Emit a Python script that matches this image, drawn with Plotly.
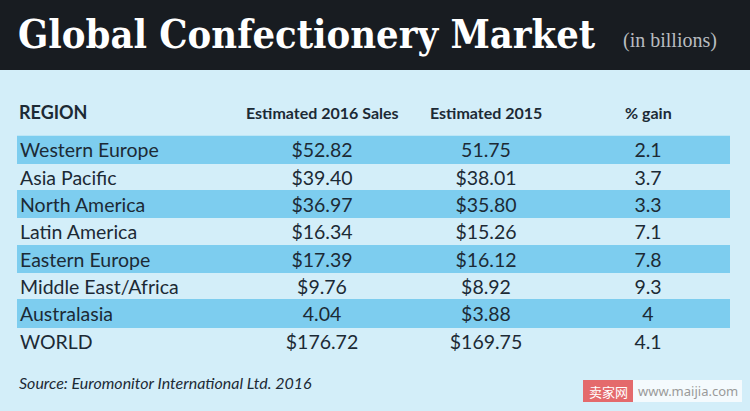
import plotly.graph_objects as go

# ---- data ----
regions = ["Western Europe", "Asia Pacific", "North America", "Latin America",
           "Eastern Europe", "Middle East/Africa", "Australasia", "WORLD"]
sales_2016 = ["$52.82", "$39.40", "$36.97", "$16.34", "$17.39", "$9.76", "4.04", "$176.72"]
est_2015 = ["51.75", "$38.01", "$35.80", "$15.26", "$16.12", "$8.92", "$3.88", "$169.75"]
pct_gain = ["2.1", "3.7", "3.3", "7.1", "7.8", "9.3", "4", "4.1"]
headers = ["REGION", "Estimated 2016 Sales", "Estimated 2015", "% gain"]
highlighted = ["Western Europe", "North America", "Eastern Europe", "Australasia"]

title = "Global Confectionery Market"
subtitle = "(in billions)"
source = "Source: Euromonitor International Ltd. 2016"

# ---- styling / layout ----
W, H = 750, 411
DARK = "#181c21"
BG = "#d3eef9"
BAND = "#7dcdef"
TXT = "#1c2a35"
BODY_FONT = "Lato"
COL_X = [20, 322, 486, 648]
BAND_LEFT, BAND_RIGHT = 17, 730

fig = go.Figure()

# highlight bands
fig.add_trace(go.Bar(
    y=highlighted, x=[BAND_RIGHT - BAND_LEFT] * len(highlighted), base=BAND_LEFT,
    orientation="h", marker=dict(color=BAND, line=dict(width=0)), width=1.04,
    hoverinfo="skip", showlegend=False))

# text columns (on a second y axis nudged slightly down for optical centring)
fig.add_trace(go.Scatter(x=[COL_X[0]] * len(regions), y=regions, mode="text", text=regions,
                         textposition="middle right", yaxis="y2",
                         textfont=dict(family=BODY_FONT, size=19.5, color=TXT),
                         hoverinfo="skip", showlegend=False))
for cx, vals in zip(COL_X[1:], [sales_2016, est_2015, pct_gain]):
    fig.add_trace(go.Scatter(x=[cx] * len(regions), y=regions, mode="text", text=vals,
                             textposition="middle center", yaxis="y2",
                             textfont=dict(family=BODY_FONT, size=19.5, color=TXT),
                             hoverinfo="skip", showlegend=False))

row_top = 135.8
row_bot = 354.5
nudge = 3
fig.update_layout(
    width=W, height=H, margin=dict(l=0, r=0, t=0, b=0),
    paper_bgcolor=BG, plot_bgcolor="rgba(0,0,0,0)",
    bargap=0,
    xaxis=dict(range=[0, W], visible=False, fixedrange=True, domain=[0, 1]),
    yaxis=dict(type="category", categoryorder="array", categoryarray=regions,
               range=[len(regions) - 0.5, -0.5], visible=False, fixedrange=True,
               domain=[1 - row_bot / H, 1 - row_top / H]),
    yaxis2=dict(type="category", categoryorder="array", categoryarray=regions,
                range=[len(regions) - 0.5, -0.5], visible=False, fixedrange=True,
                anchor="x",
                domain=[1 - (row_bot + nudge) / H, 1 - (row_top + nudge) / H]),
    shapes=[
        dict(type="rect", xref="paper", yref="paper", x0=0, x1=1, y0=1 - 70 / H, y1=1,
             fillcolor=DARK, line=dict(width=0), layer="below"),
        dict(type="rect", xref="paper", yref="paper", x0=583 / W, x1=633 / W,
             y0=1 - 402 / H, y1=1 - 380 / H, fillcolor="#e46a6c", line=dict(width=0)),
        dict(type="rect", xref="paper", yref="paper", x0=633 / W, x1=742 / W,
             y0=1 - 402 / H, y1=1 - 380 / H, fillcolor="#f4fafd", line=dict(width=0)),
    ],
)

ann = []
ann.append(dict(text=f"<b>{title}</b>", x=16 / W, y=1 - 34 / H, xref="paper", yref="paper",
                xanchor="left", yanchor="middle", showarrow=False,
                font=dict(family="DejaVu Serif Condensed", size=39.5, color="#ffffff")))
ann.append(dict(text=subtitle, x=621 / W, y=1 - 40 / H, xref="paper", yref="paper",
                xanchor="left", yanchor="middle", showarrow=False,
                font=dict(family="Liberation Serif", size=20, color="#b9bcc0")))
# headers
ann.append(dict(text=f"<b>{headers[0]}</b>", x=17 / W, y=1 - 112 / H, xref="paper", yref="paper",
                xanchor="left", yanchor="middle", showarrow=False,
                font=dict(family=BODY_FONT, size=18, color=TXT)))
for cx, h in zip(COL_X[1:], headers[1:]):
    ann.append(dict(text=f"<b>{h}</b>", x=cx / W, y=1 - 112 / H, xref="paper", yref="paper",
                    xanchor="center", yanchor="middle", showarrow=False,
                    font=dict(family=BODY_FONT, size=16, color=TXT)))
ann.append(dict(text=f"<i>{source}</i>", x=17 / W, y=1 - 382 / H, xref="paper", yref="paper",
                xanchor="left", yanchor="middle", showarrow=False,
                font=dict(family=BODY_FONT, size=16, color=TXT)))
# watermark
ann.append(dict(text="卖家网", x=608 / W, y=1 - 391 / H, xref="paper", yref="paper",
                xanchor="center", yanchor="middle", showarrow=False,
                font=dict(family="Noto Sans CJK SC", size=13, color="#ffffff")))
ann.append(dict(text="www.maijia.com", x=688 / W, y=1 - 391 / H, xref="paper", yref="paper",
                xanchor="center", yanchor="middle", showarrow=False,
                font=dict(family="Noto Sans", size=13, color="#9a9a9a")))
fig.update_layout(annotations=ann)

fig.write_html("out.html", config={"displayModeBar": False, "staticPlot": True},
               post_script="document.body.style.margin='0';document.body.style.overflow='hidden';")
